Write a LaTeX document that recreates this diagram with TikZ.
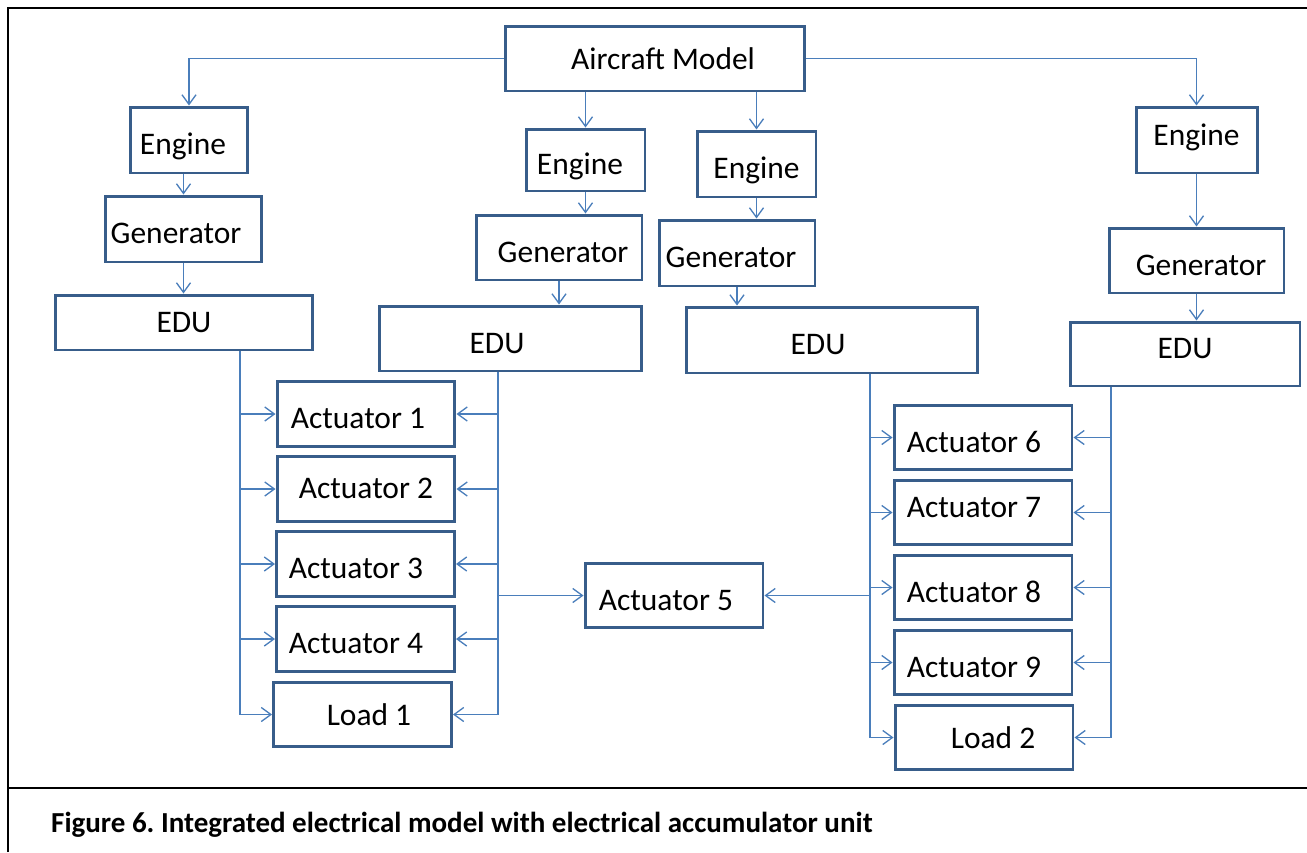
\documentclass[tikz,border=0pt]{standalone}
\usepackage{fontspec}
\setmainfont{Carlito}
\usetikzlibrary{arrows.meta,calc}
\definecolor{boxblue}{HTML}{385D8A}
\definecolor{linkblue}{HTML}{4A7EBB}
\tikzset{
  blk/.style={draw=boxblue, line width=1.7pt, inner sep=0pt, text height=17pt, text depth=0pt,
    font=\fontsize{17.9}{21}\selectfont},
  act/.style={blk, minimum width=3.56cm, minimum height=1.29cm},
  tshift/.style={execute at begin node={\hspace*{#1}}},
  conn/.style={draw=linkblue, line width=0.75pt, -{Straight Barb[length=5.5pt,width=8pt]}},
}

\begin{document}
\begin{tikzpicture}[x=0.02cm, y=-0.02cm]
\useasboundingbox (0,0) rectangle (1307,852);
\draw[line width=1.2pt] (8,852) -- (8,8) -- (1307,8);
\draw[line width=1.2pt] (8,788) -- (1307,788);

\node[blk, minimum width=6cm, minimum height=1.3cm, tshift=0.32cm, text height=12pt] (am) at (655,58.5) {Aircraft Model};

\node[blk, minimum width=2.36cm, minimum height=1.32cm, tshift=-0.24cm] (eng1) at (189,140) {Engine};
\node[blk, minimum width=3.14cm, minimum height=1.32cm, tshift=-0.3cm] (gen1) at (183.5,229) {Generator};
\node[blk, minimum width=5.16cm, minimum height=1.1cm, text height=11.3pt] (edu1) at (184,322.5) {EDU};

\node[blk, minimum width=2.38cm, minimum height=1.24cm, tshift=-0.22cm] (eng2) at (585.5,160) {Engine};
\node[blk, minimum width=3.32cm, minimum height=1.3cm, tshift=0.16cm] (gen2) at (559,247.5) {Generator};
\node[blk, minimum width=5.26cm, minimum height=1.3cm, tshift=-0.54cm] (edu2) at (510.5,338.5) {EDU};

\node[blk, minimum width=2.38cm, minimum height=1.32cm] (eng3) at (756.5,164) {Engine};
\node[blk, minimum width=3.12cm, minimum height=1.32cm, tshift=-0.24cm] (gen3) at (737,253) {Generator};
\node[blk, minimum width=5.84cm, minimum height=1.32cm, tshift=-0.56cm] (edu3) at (832,340) {EDU};

\node[blk, minimum width=2.42cm, minimum height=1.32cm, text height=6.8pt] (eng4) at (1196.5,140) {Engine};
\node[blk, minimum width=3.5cm, minimum height=1.3cm, tshift=0.18cm] (gen4) at (1196.5,260.5) {Generator};
\node[blk, minimum width=4.6cm, minimum height=1.28cm, text height=5.3pt] (edu4) at (1185,354) {EDU};

\node[act, tshift=-0.32cm] (act1) at (366,414) {Actuator 1};
\node[act, text height=11.3pt] (act2) at (366,489) {Actuator 2};
\node[act, tshift=-0.38cm] (act3) at (365.5,564) {Actuator 3};
\node[act, tshift=-0.38cm] (act4) at (365.5,639) {Actuator 4};
\node[act, tshift=0.26cm, text height=12.5pt] (load1) at (362.5,714.5) {Load 1};
\node[act, tshift=-0.32cm] (act5) at (674,595.5) {Actuator 5};
\node[act, tshift=-0.36cm] (act6) at (983,437.5) {Actuator 6};
\node[act, tshift=-0.36cm, text height=5.7pt] (act7) at (983,512.5) {Actuator 7};
\node[act, tshift=-0.36cm] (act8) at (983,587.5) {Actuator 8};
\node[act, tshift=-0.36cm] (act9) at (983,662.5) {Actuator 9};
\node[act, tshift=0.36cm, text height=12.5pt] (load2) at (984,737.5) {Load 2};

\node[anchor=west, font=\fontsize{16.5}{20}\selectfont\bfseries] (cap) at (45,825)
  {Figure 6.\ Integrated electrical model with electrical accumulator unit};

\draw[conn] (am.west) -| (eng1.north);
\draw[conn] (am.south -| eng2.north) -- (eng2.north);
\draw[conn] (am.south -| eng3.north) -- (eng3.north);
\draw[conn] (am.east) -| (eng4.north);

\draw[conn] (eng1.south -| gen1.north) -- (gen1.north);
\draw[conn] (gen1.south) -- (gen1.south |- edu1.north);
\draw[conn] (eng2.south) -- (eng2.south |- gen2.north);
\draw[conn] (gen2.south) -- (gen2.south |- edu2.north);
\draw[conn] (eng3.south) -- (eng3.south |- gen3.north);
\draw[conn] (gen3.south) -- (gen3.south |- edu3.north);
\draw[conn] (eng4.south) -- (eng4.south |- gen4.north);
\draw[conn] (gen4.south) -- (gen4.south |- edu4.north);

\coordinate (busL1) at ([xshift=1.12cm]edu1.south);
\coordinate (busL2) at ([xshift=-0.25cm]edu2.south);
\coordinate (busR2) at ([xshift=0.76cm]edu3.south);
\coordinate (busR1) at ([xshift=-1.48cm]edu4.south);

\draw[conn] (busL1) |- (load1.west);
\draw[conn] (busL2) |- (load1.east);
\foreach \n in {act1,act2,act3,act4} {
  \draw[conn] (busL1 |- \n.west) -- (\n.west);
  \draw[conn] (busL2 |- \n.east) -- (\n.east);
}
\draw[conn] (busL2 |- act5.west) -- (act5.west);

\draw[conn] (busR2) |- (load2.west);
\draw[conn] (busR1) |- (load2.east);
\foreach \n in {act6,act7,act8,act9} {
  \draw[conn] (busR2 |- \n.west) -- (\n.west);
  \draw[conn] (busR1 |- \n.east) -- (\n.east);
}
\draw[conn] (busR2 |- act5.east) -- (act5.east);
\end{tikzpicture}
\end{document}
